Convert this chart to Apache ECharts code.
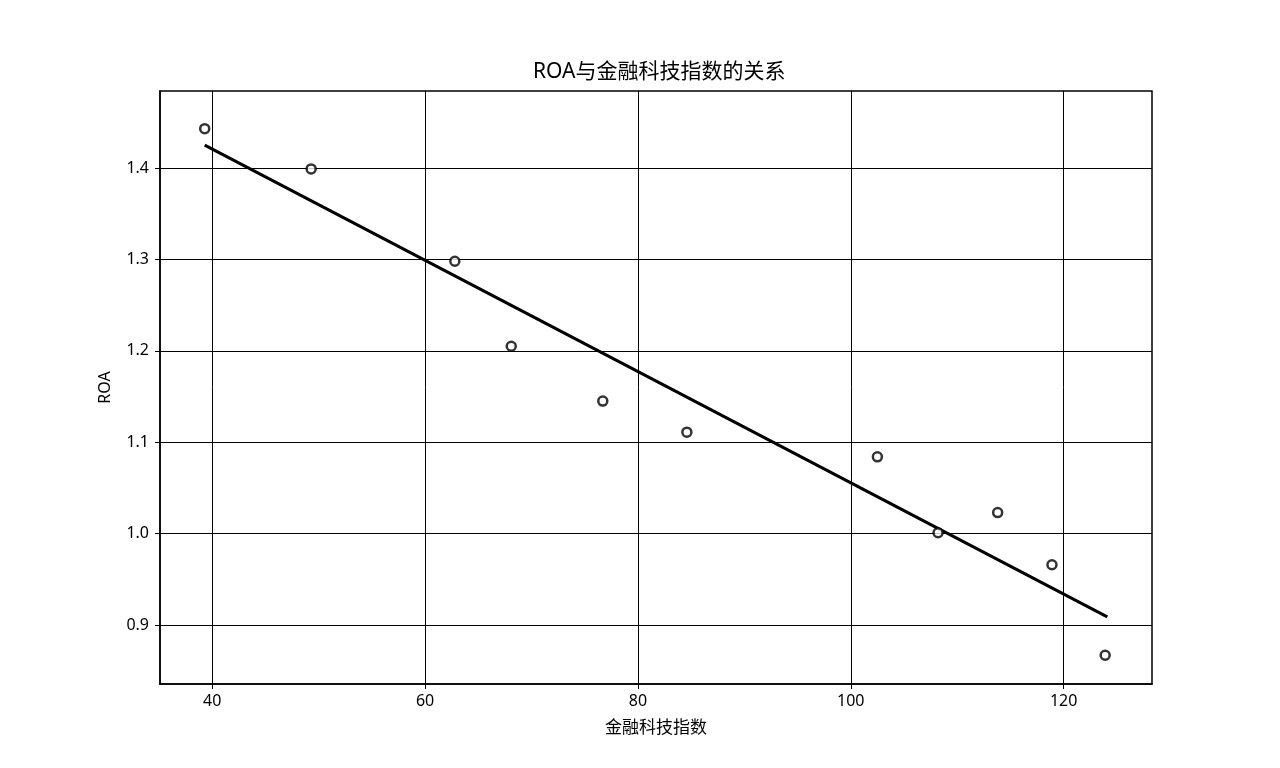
<!DOCTYPE html>
<html><head><meta charset="utf-8">
<script src="https://cdn.jsdelivr.net/npm/echarts@6/dist/echarts.min.js"></script>
<style>html,body{margin:0;padding:0;background:#fff}#c{width:1280px;height:768px}</style>
</head><body><div id="c"></div>
<script>
const fintechIndex = [39.3, 49.3, 62.8, 68.1, 76.7, 84.6, 102.5, 108.2, 113.8, 118.9, 123.9];
const roa = [1.443, 1.399, 1.298, 1.205, 1.145, 1.111, 1.084, 1.001, 1.023, 0.966, 0.867];
const fitX = [39.3, 124.1];
const fitY = [1.425, 0.909];
const xTicks = [40, 60, 80, 100, 120];
const yTicks = [0.9, 1.0, 1.1, 1.2, 1.3, 1.4];

const font = '"Noto Sans", "Noto Sans CJK SC", sans-serif';
const chart = echarts.init(document.getElementById('c'));
chart.setOption({
  backgroundColor: '#fff',
  animation: false,
  title: { text: 'ROA与金融科技指数的关系', left: 528, top: 57,
    textStyle: { fontFamily: font, fontSize: 21, fontWeight: 'normal', color: '#000' } },
  grid: { left: 160, right: 128, top: 91, bottom: 84 },
  xAxis: {
    type: 'value', min: 35.1, max: 128.3,
    name: '金融科技指数', nameLocation: 'middle', nameGap: 36,
    nameTextStyle: { fontFamily: font, fontSize: 17, color: '#000' },
    axisLine: { show: true, lineStyle: { color: '#000', width: 1.5 } },
    axisTick: { show: true, inside: false, length: 5, lineStyle: { color: '#000' }, customValues: xTicks },
    axisLabel: { fontFamily: font, fontSize: 16, color: '#000', margin: 9, customValues: xTicks },
    splitLine: { show: true, lineStyle: { color: '#000', width: 1 } }
  },
  yAxis: {
    type: 'value', min: 0.8355, max: 1.4842,
    name: 'ROA', nameLocation: 'middle', nameGap: 47,
    nameTextStyle: { fontFamily: font, fontSize: 16, color: '#000' },
    axisLine: { show: true, lineStyle: { color: '#000', width: 1.5 } },
    axisTick: { show: true, inside: false, length: 5, lineStyle: { color: '#000' }, customValues: yTicks },
    axisLabel: { fontFamily: font, fontSize: 16, color: '#000', margin: 11, customValues: yTicks,
      formatter: v => v.toFixed(1) },
    splitLine: { show: true, lineStyle: { color: '#000', width: 1 } }
  },
  series: [
    { type: 'line', data: fitX.map((x, i) => [x, fitY[i]]), symbol: 'none',
      lineStyle: { color: '#000', width: 3 }, z: 3 },
    { type: 'scatter', data: fintechIndex.map((x, i) => [x, roa[i]]), symbol: 'circle', symbolSize: 9,
      itemStyle: { color: '#fff', borderColor: '#000', borderWidth: 2.5 }, z: 4 }
  ],
  graphic: [{ type: 'rect', shape: { x: 160, y: 91, width: 992, height: 593 },
    style: { fill: 'none', stroke: '#000', lineWidth: 1.5 }, z: 10 }]
});
</script></body></html>
